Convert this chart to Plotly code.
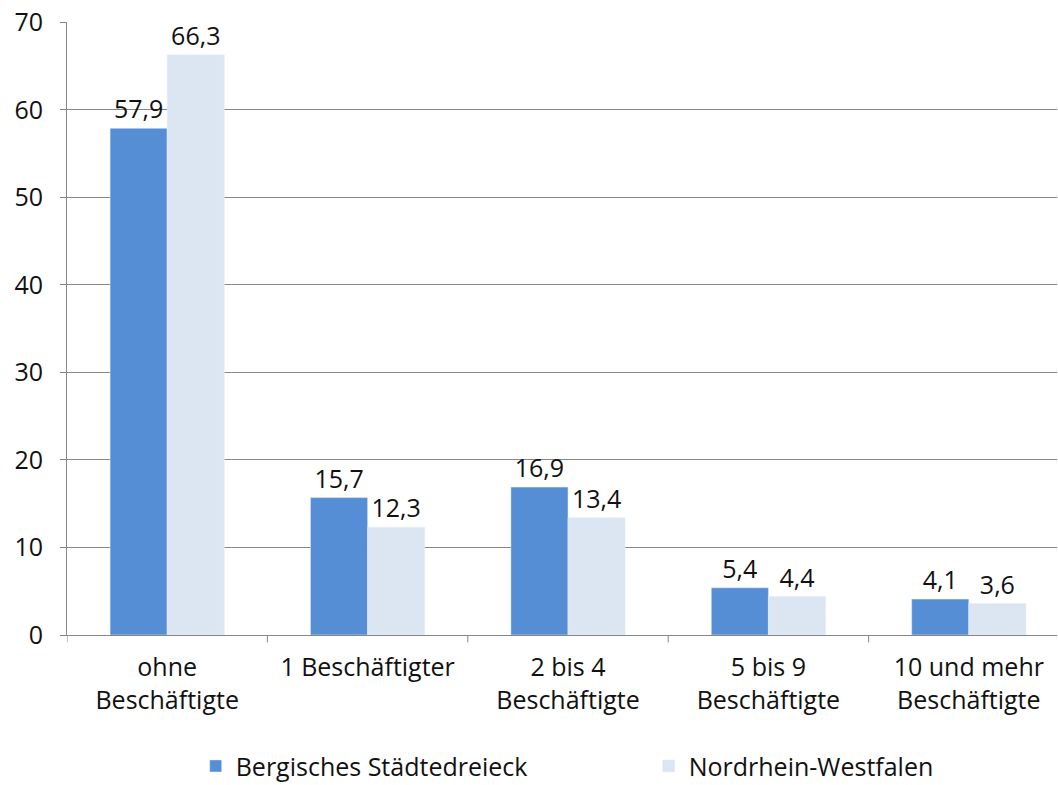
import plotly.graph_objects as go

categories = ["ohne<br>Beschäftigte", "1 Beschäftigter", "2 bis 4<br>Beschäftigte",
              "5 bis 9<br>Beschäftigte", "10 und mehr<br>Beschäftigte"]
bergisch = [57.9, 15.7, 16.9, 5.4, 4.1]
nrw = [66.3, 12.3, 13.4, 4.4, 3.6]
series_names = ["Bergisches Städtedreieck", "Nordrhein-Westfalen"]
y_ticks = [0, 10, 20, 30, 40, 50, 60, 70]

FONT = "Open Sans, Noto Sans, sans-serif"
FS = 25
fig = go.Figure()
x_idx = list(range(len(categories)))
fig.add_trace(go.Bar(x=x_idx, y=bergisch, name=series_names[0], marker_color="#558ED5",
                     text=[f"{v:.1f}".replace(".", ",") for v in bergisch],
                     textposition="outside", cliponaxis=False,
                     textfont=dict(size=FS, color="#111111", family=FONT)))
fig.add_trace(go.Bar(x=x_idx, y=nrw, name=series_names[1], marker_color="#DCE6F2",
                     text=[f"{v:.1f}".replace(".", ",") for v in nrw],
                     textposition="outside", cliponaxis=False,
                     textfont=dict(size=FS, color="#111111", family=FONT)))

fig.update_layout(
    width=1058, height=785,
    margin=dict(l=67, r=1, t=22, b=150, autoexpand=False),
    paper_bgcolor="white", plot_bgcolor="white",
    font=dict(family=FONT, size=FS, color="#111111"),
    barmode="group", bargap=0.43, bargroupgap=0,
    showlegend=True,
    legend=dict(orientation="h", x=0.130, xanchor="left", xref="paper",
                y=-0.214, yanchor="middle", yref="paper",
                entrywidth=408, entrywidthmode="pixels",
                font=dict(size=FS, family=FONT), traceorder="normal"),
)
fig.update_xaxes(tickvals=x_idx, ticktext=categories, range=[-0.5, 4.44],
                 showline=True, linecolor="#868686", linewidth=1, automargin=False,
                 ticks="outside", ticklen=10, tickcolor="rgba(0,0,0,0)",
                 showgrid=False, zeroline=False)
fig.update_yaxes(range=[0, 70.05], tickvals=y_ticks, showgrid=True, gridcolor="#868686",
                 gridwidth=1, showline=True, linecolor="#868686", linewidth=1,
                 automargin=False, ticklabelstandoff=12, ticklabeloverflow="allow",
                 ticks="outside", ticklen=6, tickcolor="#868686", zeroline=False)
for k in range(len(categories) + 1):
    fig.add_shape(type="line", xref="x", yref="paper", x0=k - 0.5, x1=k - 0.5,
                  y0=0, y1=-0.012, line=dict(color="#868686", width=1))

fig.write_html("out.html", config={"displayModeBar": False},
               post_script="document.body.style.margin='0';")
